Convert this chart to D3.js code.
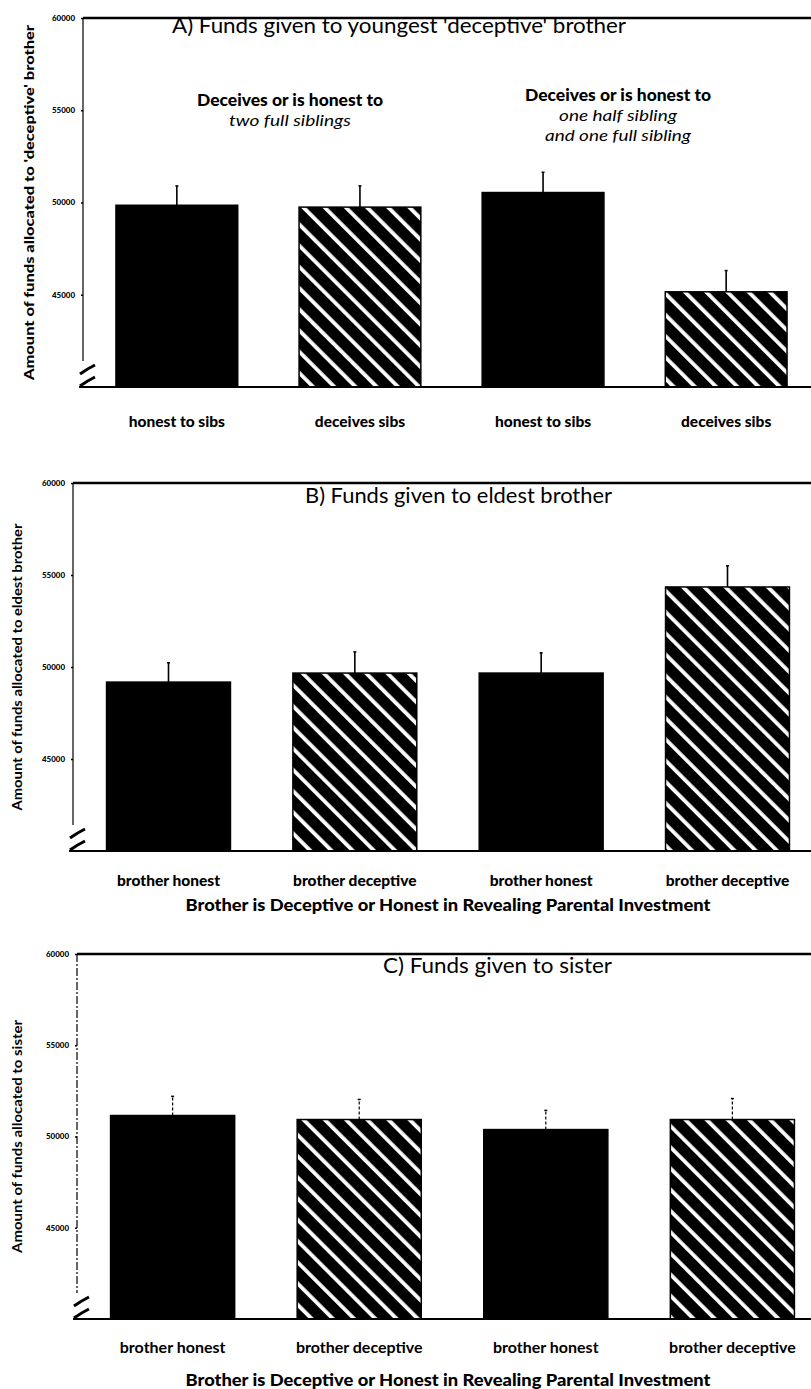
<!DOCTYPE html>
<html>
<head>
<meta charset="utf-8">
<title>Funds given to siblings</title>
<script src="https://d3js.org/d3.v7.min.js"></script>
<style>
  body { margin: 0; background: #fff; }
  svg { display: block; }
  text { fill: #000; font-family: Lato, "Open Sans", sans-serif; }
</style>
</head>
<body>
<svg id="chart" width="811" height="1389"></svg>
<script>
// data
const kinds = ["honest", "deceptive", "honest", "deceptive"];
const labelsA = ["honest to sibs", "deceives sibs", "honest to sibs", "deceives sibs"];
const labelsBC = ["brother honest", "brother deceptive", "brother honest", "brother deceptive"];
const valuesA = [49850, 49750, 50540, 45160];
const errorsA = [1050, 1150, 1100, 1150];
const valuesB = [49180, 49670, 49670, 54350];
const errorsB = [1050, 1150, 1100, 1150];
const valuesC = [51150, 50930, 50380, 50930];
const errorsC = [1050, 1100, 1050, 1150];
const yTicks = [45000, 50000, 55000, 60000];
const yDomain = [40000, 60000];

const svg = d3.select("#chart");

// diagonal white stripes on black
const pat = svg.append("defs").append("pattern")
  .attr("id", "stripes")
  .attr("patternUnits", "userSpaceOnUse")
  .attr("width", 15).attr("height", 15)
  .attr("patternTransform", "rotate(-45)");
pat.append("rect").attr("width", 15).attr("height", 15).attr("fill", "#000");
pat.append("rect").attr("x", 6).attr("width", 3.8).attr("height", 15).attr("fill", "#fff");

function panel(p) {
  const g = svg.append("g");
  const x = d3.scaleBand().domain(d3.range(4)).range([p.left, p.bandRight])
    .paddingInner(0.335).paddingOuter(0.18);
  const y = d3.scaleLinear().domain(yDomain).range([p.bottom, p.top]);

  // bars
  g.selectAll("rect.bar").data(p.values).enter().append("rect")
    .attr("class", "bar")
    .attr("x", (d, i) => x(i))
    .attr("width", x.bandwidth())
    .attr("y", d => y(d))
    .attr("height", d => p.bottom - y(d))
    .attr("fill", (d, i) => kinds[i] == "honest" ? "#000" : "url(#stripes)")
    .attr("stroke", "#000").attr("stroke-width", 1.5);

  // error bars (upper only)
  g.selectAll("line.err").data(p.values).enter().append("line")
    .attr("x1", (d, i) => x(i) + x.bandwidth() / 2)
    .attr("x2", (d, i) => x(i) + x.bandwidth() / 2)
    .attr("y1", d => y(d))
    .attr("y2", (d, i) => y(d + p.errors[i]))
    .attr("stroke", "#000").attr("stroke-width", p.dashed ? 1.2 : 1.6)
    .attr("stroke-dasharray", p.dashed ? "3,2" : null);
  g.selectAll("line.cap").data(p.values).enter().append("line")
    .attr("x1", (d, i) => x(i) + x.bandwidth() / 2 - 1.5)
    .attr("x2", (d, i) => x(i) + x.bandwidth() / 2 + 1.5)
    .attr("y1", (d, i) => y(d + p.errors[i]))
    .attr("y2", (d, i) => y(d + p.errors[i]))
    .attr("stroke", "#000").attr("stroke-width", 1.5);

  // y axis
  const ax = g.append("g")
    .attr("transform", "translate(" + p.left + ",0)")
    .call(d3.axisLeft(y).tickValues(yTicks).tickSize(2).tickSizeOuter(0).tickFormat(d3.format("d")));
  ax.select(".domain").remove();
  ax.selectAll("line").attr("stroke-width", 1.5);
  ax.selectAll("text")
    .attr("x", -8)
    .style("font-size", "7.5px").style("font-weight", 900)
    .style("font-family", "Lato, sans-serif")
    .attr("textLength", 23).attr("lengthAdjust", "spacingAndGlyphs");

  g.append("line")
    .attr("x1", p.left).attr("x2", p.left)
    .attr("y1", p.top).attr("y2", p.bottom - 26)
    .attr("stroke", "#000").attr("stroke-width", 1.2)
    .attr("stroke-dasharray", p.dashed ? "8,2,2,2" : null);

  // axis break marks
  [[-22, -12], [-10, 0]].forEach(o => {
    g.append("path")
      .attr("d", "M" + (p.left - 3) + "," + (p.bottom + o[1] - 1) +
        " Q" + (p.left + 4) + "," + (p.bottom + o[0] + 4) + " " + (p.left + 12) + "," + (p.bottom + o[0]))
      .attr("fill", "none").attr("stroke", "#000").attr("stroke-width", 3);
  });

  // top rule and x axis
  g.append("line").attr("x1", p.left).attr("x2", 811)
    .attr("y1", p.top).attr("y2", p.top)
    .attr("stroke", "#000").attr("stroke-width", 2.4);
  g.append("line").attr("x1", p.left - 4).attr("x2", 811)
    .attr("y1", p.bottom).attr("y2", p.bottom)
    .attr("stroke", "#000").attr("stroke-width", 2.2);

  // x labels
  g.selectAll("text.xl").data(p.labels).enter().append("text")
    .attr("x", (d, i) => x(i) + x.bandwidth() / 2)
    .attr("y", p.labelY)
    .attr("text-anchor", "middle")
    .style("font-size", p.labelSize + "px")
    .style("font-weight", p.labelWeight)
    .text(d => d);

  // panel title
  g.append("text")
    .attr("x", p.titleX).attr("y", p.titleY)
    .attr("textLength", p.titleLen).attr("lengthAdjust", "spacingAndGlyphs")
    .style("font-size", "21px")
    .text(p.title);

  // y title
  g.append("text")
    .attr("transform", "translate(" + p.yTitleX + "," + ((p.top + p.bottom) / 2) + ") rotate(-90)")
    .attr("text-anchor", "middle")
    .attr("textLength", p.yTitleLen).attr("lengthAdjust", "spacingAndGlyphs")
    .style("font-size", "12.5px")
    .style("font-weight", p.yTitleWeight)
    .text(p.yTitle);

  if (p.xTitle) {
    g.append("text")
      .attr("x", 448).attr("y", p.xTitleY)
      .attr("text-anchor", "middle")
      .attr("textLength", 525).attr("lengthAdjust", "spacingAndGlyphs")
      .style("font-size", "16px").style("font-weight", 900)
      .text(p.xTitle);
  }
  return g;
}

const gA = panel({
  left: 83, bandRight: 820, top: 18, bottom: 387,
  values: valuesA, errors: errorsA, labels: labelsA,
  labelY: 427, labelSize: 15.5, labelWeight: 900,
  title: "A)  Funds given to youngest 'deceptive' brother", titleX: 172, titleY: 33, titleLen: 454,
  yTitle: "Amount of funds allocated to 'deceptive' brother", yTitleX: 34, yTitleLen: 355, yTitleWeight: 900
});

// group captions in panel A
const capA = [
  { x: 290, y: 106, lines: [["Deceives or is honest to", "bold", 186], ["two full siblings", "italic", 122]] },
  { x: 618, y: 101, lines: [["Deceives or is honest to", "bold", 186], ["one half sibling", "italic", 118], ["and one full sibling", "italic", 146]] }
];
capA.forEach(c => {
  c.lines.forEach((l, j) => {
    gA.append("text")
      .attr("x", c.x).attr("y", c.y + j * 20)
      .attr("text-anchor", "middle")
      .attr("textLength", l[2]).attr("lengthAdjust", "spacingAndGlyphs")
      .style("font-size", l[1] == "bold" ? "16px" : "15px")
      .style("font-weight", l[1] == "bold" ? 900 : 400)
      .style("font-style", l[1] == "italic" ? "italic" : "normal")
      .text(l[0]);
  });
});

panel({
  left: 73, bandRight: 823, top: 483, bottom: 851,
  values: valuesB, errors: errorsB, labels: labelsBC,
  labelY: 886, labelSize: 15.5, labelWeight: 900,
  title: "B) Funds given to eldest brother", titleX: 305, titleY: 503, titleLen: 307,
  yTitle: "Amount of funds allocated to eldest brother", yTitleX: 22, yTitleLen: 287, yTitleWeight: 700,
  xTitle: "Brother is Deceptive or Honest in Revealing Parental Investment", xTitleY: 911
});

panel({
  left: 77, bandRight: 828, top: 954, bottom: 1319,
  values: valuesC, errors: errorsC, labels: labelsBC, dashed: true,
  labelY: 1353, labelSize: 16, labelWeight: 700,
  title: "C) Funds given to sister", titleX: 383, titleY: 973, titleLen: 229,
  yTitle: "Amount of funds allocated to sister", yTitleX: 22, yTitleLen: 233, yTitleWeight: 700,
  xTitle: "Brother is Deceptive or Honest in Revealing Parental Investment", xTitleY: 1386
});
</script>
</body>
</html>
